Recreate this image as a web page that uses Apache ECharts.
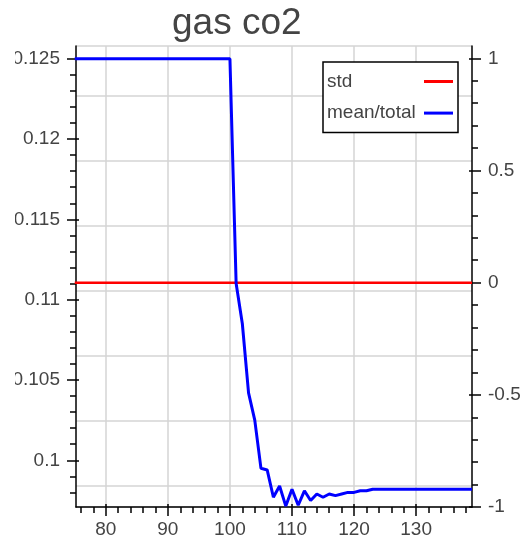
<!DOCTYPE html>
<html>
<head>
<meta charset="utf-8">
<script src="https://cdn.jsdelivr.net/npm/echarts@6/dist/echarts.min.js"></script>
<style>
html,body{margin:0;padding:0;background:#fff;}
#chart{width:524px;height:543px;}
</style>
</head>
<body>
<div id="chart"></div>
<script>
// ---- data ----
var titleText = 'gas co2';
var seriesNames = ['std', 'mean/total'];
var xValues = [75,76,77,78,79,80,81,82,83,84,85,86,87,88,89,90,91,92,93,94,95,96,97,98,99,100,
  101,102,103,104,105,106,107,108,109,110,111,112,113,114,115,116,117,118,119,120,
  121,122,123,124,125,126,127,128,129,130,131,132,133,134,135,136,137,138,139];
var stdValues = [0,0,0,0,0,0,0,0,0,0,0,0,0,0,0,0,0,0,0,0,0,0,0,0,0,0,
  0,0,0,0,0,0,0,0,0,0,0,0,0,0,0,0,0,0,0,0,
  0,0,0,0,0,0,0,0,0,0,0,0,0,0,0,0,0,0,0];
var meanValues = [0.125,0.125,0.125,0.125,0.125,0.125,0.125,0.125,0.125,0.125,0.125,0.125,0.125,
  0.125,0.125,0.125,0.125,0.125,0.125,0.125,0.125,0.125,0.125,0.125,0.125,0.125,
  0.1110,0.1085,0.1042,0.1025,0.0995,0.0994,0.0977,0.0984,0.09715,0.0982,0.0972,0.0981,
  0.0975,0.0979,0.0977,0.0979,0.0978,0.0979,0.0980,0.0980,
  0.0981,0.0981,0.0982,0.0982,0.0982,0.0982,0.0982,0.0982,0.0982,0.0982,0.0982,0.0982,
  0.0982,0.0982,0.0982,0.0982,0.0982,0.0982,0.0982];
var xTicks = [80, 90, 100, 110, 120, 130];
var leftTicks = [0.1, 0.105, 0.11, 0.115, 0.12, 0.125];
var rightTicks = [-1, -0.5, 0, 0.5, 1];

// ---- chart ----
var FONT = '"Liberation Sans", Arial, Helvetica, sans-serif';
var TXT = '#444';
var chart = echarts.init(document.getElementById('chart'), null, {renderer: 'canvas'});

function pairs(xs, ys) { return xs.map(function (x, i) { return [x, ys[i]]; }); }

var X_MIN = 75.2, X_MAX = 139;
var L_MIN = 0.097092, L_MAX = 0.125791;
var R_MIN = -1, R_MAX = 1.055;

var axisLine = {show: true, onZero: false, lineStyle: {color: '#000', width: 1.5}};
var tickStyle = {color: '#000', width: 1.5};
var minor = {show: true, splitNumber: 5, length: 6, lineStyle: {color: '#000', width: 1.5}};
var grid = {show: true, lineStyle: {color: '#d4d4d4', width: 1.5}};
var lbl = {fontFamily: FONT, fontSize: 19, color: TXT};

// overlay axis giving the short inward part of the major ticks
function innerAxis(base, ticks) {
  return Object.assign({
    axisLine: {show: false, onZero: false},
    axisTick: {show: true, inside: true, length: 3, customValues: ticks, lineStyle: tickStyle},
    minorTick: {show: false},
    splitLine: {show: false},
    axisLabel: {show: false}
  }, base);
}

chart.setOption({
  animation: false,
  backgroundColor: '#fff',
  title: {
    text: titleText, left: 172, top: 5, padding: 0,
    textStyle: {fontFamily: FONT, fontSize: 37, fontWeight: 'normal', color: TXT}
  },
  grid: {left: 76, right: 52, top: 46, bottom: 36, containLabel: false},
  legend: {
    orient: 'vertical', left: 323, top: 62, align: 'right',
    padding: [10, 5, 10, 4], itemWidth: 29, itemHeight: 14, itemGap: 12.6,
    icon: 'path://M0,0H29V3H0Z',
    backgroundColor: '#fff', borderColor: '#000', borderWidth: 1.5, borderRadius: 0,
    formatter: '{a|{name}}',
    textStyle: {fontFamily: FONT, fontSize: 19, color: TXT,
      rich: {a: {width: 92, align: 'left', fontFamily: FONT, fontSize: 19, color: TXT, lineHeight: 20}}},
    data: seriesNames
  },
  xAxis: [
    {
      type: 'value', min: X_MIN, max: X_MAX, scale: true, position: 'bottom',
      axisLine: axisLine,
      axisTick: {show: true, length: 9, customValues: xTicks, lineStyle: tickStyle},
      minorTick: minor,
      splitLine: grid,
      axisLabel: Object.assign({customValues: xTicks, margin: 13}, lbl)
    },
    innerAxis({type: 'value', min: X_MIN, max: X_MAX, scale: true, position: 'bottom'}, xTicks)
  ],
  yAxis: [
    {
      type: 'value', position: 'left', min: L_MIN, max: L_MAX, scale: true,
      axisLine: axisLine,
      axisTick: {show: true, length: 9, customValues: leftTicks, lineStyle: tickStyle},
      minorTick: minor,
      splitLine: {show: false},
      axisLabel: Object.assign({customValues: leftTicks, margin: 16}, lbl)
    },
    {
      type: 'value', position: 'right', min: R_MIN, max: R_MAX, scale: true,
      axisLine: axisLine,
      axisTick: {show: true, length: 9, customValues: rightTicks, lineStyle: tickStyle},
      minorTick: minor,
      splitLine: {show: false},
      axisLabel: Object.assign({customValues: rightTicks, margin: 16}, lbl)
    },
    {
      type: 'value', position: 'left', min: -0.3231, max: 6.769, splitNumber: 7,
      axisLine: {show: false}, axisTick: {show: false}, axisLabel: {show: false},
      splitLine: grid
    },
    innerAxis({type: 'value', position: 'left', min: L_MIN, max: L_MAX, scale: true}, leftTicks),
    innerAxis({type: 'value', position: 'right', min: R_MIN, max: R_MAX, scale: true}, rightTicks)
  ],
  series: [
    {
      name: seriesNames[0], type: 'line', yAxisIndex: 1, symbol: 'none', showSymbol: false,
      lineStyle: {color: '#ff0000', width: 2.5}, itemStyle: {color: '#ff0000'},
      data: pairs(xValues, stdValues), clip: true, z: 3
    },
    {
      name: seriesNames[1], type: 'line', yAxisIndex: 0, symbol: 'none', showSymbol: false,
      lineStyle: {color: '#0000ff', width: 3}, itemStyle: {color: '#0000ff'},
      data: pairs(xValues, meanValues), clip: true, z: 4
    }
  ],
  graphic: [
    {type: 'rect', left: 0, top: 0, z: 100, shape: {width: 15, height: 543}, style: {fill: '#fff'}}
  ]
});
</script>
</body>
</html>
